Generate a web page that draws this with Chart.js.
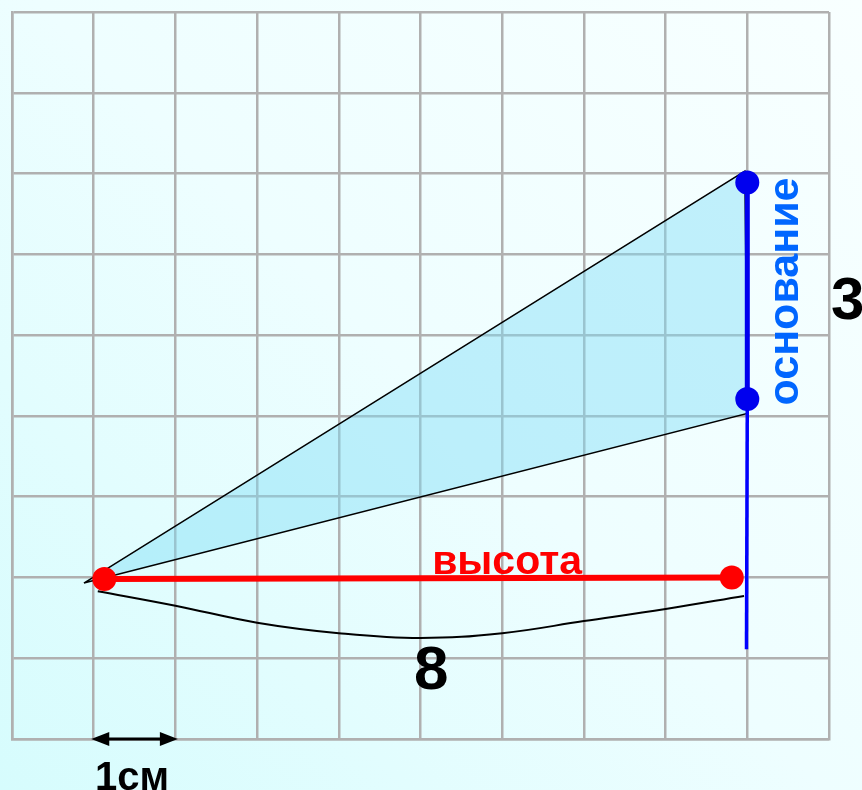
<!DOCTYPE html>
<html>
<head>
<meta charset="utf-8">
<script src="https://cdn.jsdelivr.net/npm/chart.js@4.4.1/dist/chart.umd.min.js"></script>
<style>
    html, body { margin: 0; padding: 0; }
    body {
        width: 862px; height: 790px; overflow: hidden;
        background: linear-gradient(45deg, #d6fcfd 0%, #eefeff 50%, #f8ffff 100%);
    }
    canvas { display: block; }
</style>
</head>
<body>
<canvas id="gridChart" width="862" height="790"></canvas>
<script>
// grid: 10 x 9 cells, 1 cell = 1 cm
const gridX = [0, 10];
const gridY = [0, 9];

// triangle: apex, top of base, bottom of base
const triangleX = [0.88, 8.97, 9.0, 0.88];
const triangleY = [1.93, 7.03, 4.03, 1.93];

// base (основание) between the two blue dots, plus its extension downward
const baseX = [9.0, 9.0];
const baseY = [6.89, 4.21];
const baseExtX = [9.0, 8.99];
const baseExtY = [4.21, 1.11];

// height (высота)
const heightX = [1.13, 8.81];
const heightY = [1.98, 2.0];

// brace under the height, labelled 8
const braceX = [1.05, 2.0, 3.0, 4.0, 5.0, 6.0, 7.0, 8.0, 8.96];
const braceY = [1.83, 1.65, 1.44, 1.31, 1.25, 1.31, 1.46, 1.61, 1.77];

// 1 cm scale arrow
const unitArrowX = [0.97, 2.03];
const unitArrowY = [0, 0];

const baseLabel = 'основание';
const baseValue = '3';
const heightLabel = 'высота';
const heightValue = '8';
const unitLabel = '1см';

const toPts = (xs, ys) => xs.map((x, i) => ({ x: x, y: ys[i] }));

const labelsPlugin = {
    id: 'labels',
    afterDatasetsDraw(chart) {
        const ctx = chart.ctx;
        const sx = chart.scales.x;
        const sy = chart.scales.y;
        const px = v => sx.getPixelForValue(v);
        const py = v => sy.getPixelForValue(v);

        ctx.save();
        // 1 cm arrow
        const x1 = px(unitArrowX[0]), x2 = px(unitArrowX[1]), ay = py(unitArrowY[0]);
        ctx.strokeStyle = '#000';
        ctx.fillStyle = '#000';
        ctx.lineWidth = 3;
        ctx.beginPath();
        ctx.moveTo(x1 + 10, ay);
        ctx.lineTo(x2 - 10, ay);
        ctx.stroke();
        ctx.beginPath();
        ctx.moveTo(x1, ay);
        ctx.lineTo(x1 + 18, ay - 7);
        ctx.lineTo(x1 + 18, ay + 7);
        ctx.closePath();
        ctx.fill();
        ctx.beginPath();
        ctx.moveTo(x2, ay);
        ctx.lineTo(x2 - 18, ay - 7);
        ctx.lineTo(x2 - 18, ay + 7);
        ctx.closePath();
        ctx.fill();

        ctx.textAlign = 'center';
        ctx.textBaseline = 'alphabetic';

        ctx.fillStyle = '#000';
        ctx.font = 'bold 40px "Liberation Sans", Arial, sans-serif';
        ctx.fillText(unitLabel, px(1.47), py(-0.63));

        ctx.font = 'bold 62px "Liberation Sans", Arial, sans-serif';
        ctx.fillText(heightValue, px(5.13), py(0.62));
        ctx.font = 'bold 60px "Liberation Sans", Arial, sans-serif';
        ctx.fillText(baseValue, px(10.23), py(5.2));

        ctx.fillStyle = '#ff0000';
        ctx.font = 'bold 41px "Liberation Sans", Arial, sans-serif';
        ctx.fillText(heightLabel, px(6.06), py(2.04));

        ctx.fillStyle = '#0066ff';
        ctx.font = 'bold 43px "Liberation Sans", Arial, sans-serif';
        ctx.translate(px(9.62), py(5.54));
        ctx.rotate(-Math.PI / 2);
        ctx.fillText(baseLabel, 0, 0);
        ctx.restore();
    }
};

const gridOpts = {
    color: '#b0b0b0',
    lineWidth: 2.5,
    drawTicks: false
};

new Chart(document.getElementById('gridChart').getContext('2d'), {
    type: 'scatter',
    data: {
        datasets: [
            {
                data: toPts(triangleX, triangleY),
                showLine: true,
                fill: 'shape',
                backgroundColor: 'rgba(125, 221, 246, 0.44)',
                borderColor: '#000',
                borderWidth: 1.5,
                pointRadius: 0,
                order: 5
            },
            {
                data: toPts(braceX, braceY),
                showLine: true,
                tension: 0.4,
                borderColor: '#000',
                borderWidth: 2,
                pointRadius: 0,
                order: 4
            },
            {
                data: toPts(heightX, heightY),
                showLine: true,
                borderColor: '#ff0000',
                borderWidth: 6,
                pointRadius: 12,
                pointBackgroundColor: '#ff0000',
                pointBorderWidth: 0,
                order: 3
            },
            {
                data: toPts(baseExtX, baseExtY),
                showLine: true,
                borderColor: '#0000ff',
                borderWidth: 3.5,
                pointRadius: 0,
                order: 2
            },
            {
                data: toPts(baseX, baseY),
                showLine: true,
                borderColor: '#0000ee',
                borderWidth: 5,
                pointRadius: 12,
                pointBackgroundColor: '#0000ee',
                pointBorderWidth: 0,
                order: 1
            }
        ]
    },
    options: {
        responsive: false,
        animation: false,
        clip: false,
        layout: {
            padding: { left: 10, top: 10, right: 33, bottom: 51 }
        },
        plugins: {
            legend: { display: false },
            tooltip: { enabled: false }
        },
        scales: {
            x: {
                min: gridX[0],
                max: gridX[1],
                ticks: { display: false, stepSize: 1 },
                grid: gridOpts,
                border: { color: '#b0b0b0', width: 2.5 }
            },
            y: {
                min: gridY[0],
                max: gridY[1],
                ticks: { display: false, stepSize: 1 },
                grid: gridOpts,
                border: { color: '#b0b0b0', width: 2.5 }
            }
        }
    },
    plugins: [labelsPlugin]
});
</script>
</body>
</html>
